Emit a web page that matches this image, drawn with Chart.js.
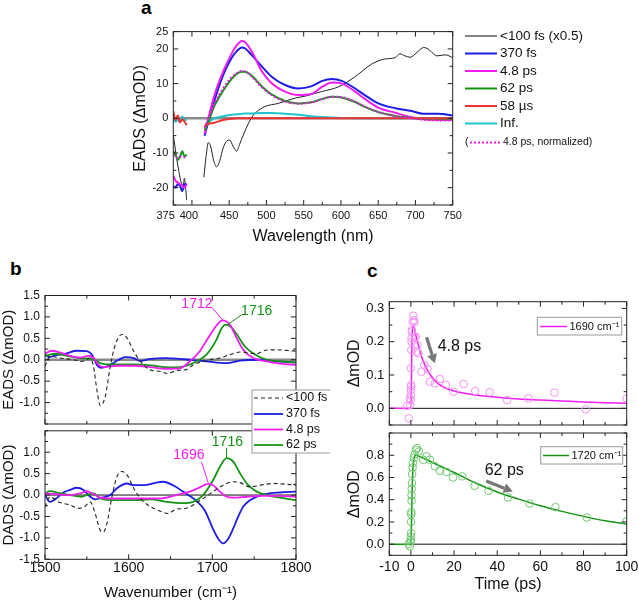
<!DOCTYPE html>
<html><head><meta charset="utf-8">
<script src="https://cdn.jsdelivr.net/npm/chart.js@4/dist/chart.umd.min.js"></script>
<style>
html,body{margin:0;padding:0;background:#fff;}
body{width:639px;height:602px;position:relative;overflow:hidden;font-family:"Liberation Sans",Arial,sans-serif;}
canvas{position:absolute;}
.plbl{position:absolute;font-weight:bold;font-size:19px;line-height:19px;color:#000;}
</style></head><body>
<div class="plbl" style="left:141px;top:-2px">a</div>
<div class="plbl" style="left:10px;top:259px">b</div>
<div class="plbl" style="left:367px;top:261px">c</div>
<script>
// ---------------- DATA ----------------
// Panel a: EADS vs wavelength (nm)
const aWl = [375,378,381,384,387,390,393,405,417,422,430,442,453,460,467,471,480,494,507,525,543,560,575,588,601,619,632,650,673,695,710,730,750];
const aBlue370fs = [-19.5,-20,-19,-19.5,-21,-19,-19,null,-5,-1,5,12.5,17.3,19.3,20.4,20.2,18.3,14.9,12,9.6,8.6,9.2,10.8,11.3,10.8,8.6,6.7,4.3,2.9,2.1,1.3,1.3,0.8];
const aMag48ps = [-16.5,-18,-18.5,-19,-19.5,-20,-19,null,-4.5,0,6.5,13.5,18.5,21,22.3,22,19.4,13.5,10.1,7.7,6.7,7.0,9.1,10.3,10.0,7.7,5.6,3.1,1.6,0.3,-0.3,-0.5,-0.5];
const aGreen62ps = [-9.5,-10.5,-12,-11,-9.5,-11,-10.5,null,-3.5,-1,3.5,8,11.3,12.8,13.4,13.4,12.3,9.2,6.9,5.0,4.3,4.6,5.6,6.2,6.0,4.7,3.3,1.8,0.7,0.1,-0.2,-0.3,-0.3];
const aMagNorm = [-10.5,-11,-11.5,-11,-11,-11.2,-11,null,-2.8,0,4.2,8.7,11.8,13,13.7,13.6,12.1,8.9,6.7,4.8,4.2,4.5,5.5,6.2,6.1,4.8,3.4,1.8,0.6,0,-0.4,-0.6,-0.6];
const aRed58us = [2,-0.5,0.8,-1.2,-0.3,-1,-2,null,-2.2,-1.6,-1.3,-0.5,-0.1,0,0,0,0,0,0,0,0,0,0,0,0,0,0,0,0,0,0,0,0];
const aCyanInf = [0.5,-1,-0.5,-1,0.5,-0.5,-0.5,null,-2.5,-1.2,0,0.6,1.0,1.2,1.3,1.35,1.4,1.5,1.5,1.3,1.0,0.6,0.35,0.2,0.1,0.05,0,0,0,0,0,0,0];
const aBlackWl = [375,379.5,382.6,385.3,388.4,389.8,391.6,392.9,405,416,419,422,425,429,433,437,442,447,451,455,460,464,469,476,482,487,498,516,538,552,574,597,619,641,659,673,679,686,693,702,711,717,724,729,740,750];
const aBlack100fs = [-4.8,-11.5,-15.4,-18.3,-19.2,-17.3,-20.2,-23.5,null,-17,-11,-7,-8,-12,-14,-12.5,-8.5,-6.5,-6.3,-8,-9.5,-7.5,-4.8,-1.4,0.8,1.9,3.4,4.3,5.8,6.4,7.7,9.1,12,15.6,17.1,17.5,18.6,18,17.6,19,20.4,20,18.6,18,18.3,17.5];
const aXTicks = [375,400,425,450,475,500,525,550,575,600,625,650,675,700,725,750];
const aXLabels = [375,400,450,500,550,600,650,700,750];
const aYTicks = [-25,-20,-15,-10,-5,0,5,10,15,20,25];
const aYLabels = [-20,-10,0,10,20,25];

// Panel b (top): EADS vs wavenumber
const bEadsFsX = [1500,1506,1518,1534,1544,1554,1558,1562,1566,1572,1578,1584,1592,1598,1606,1614,1625,1637,1647,1657,1669,1677,1689,1697,1709,1721,1733,1743,1753,1761,1773,1789,1800];
const bEadsFsY = [-0.15,0.08,0.04,0,-0.04,0.04,-0.16,-0.7,-1.07,-0.86,-0.16,0.35,0.59,0.51,0.2,-0.04,-0.23,-0.27,-0.32,-0.25,-0.23,-0.12,-0.04,0,0.04,0.12,0.18,0.16,0.14,0.21,0.23,0.22,0.2];
const bEads370X = [1500,1505,1512,1526,1538,1550,1556,1562,1567,1578,1588,1596,1606,1614,1626,1645,1661,1677,1693,1717,1733,1757,1777,1800];
const bEads370Y = [0.12,0.06,0.1,0.15,0.21,0.2,0.12,-0.12,-0.19,-0.12,0,0.06,0.04,-0.03,0.02,0.04,0.02,-0.01,-0.04,-0.08,-0.02,0,-0.04,-0.06];
const bEads48X = [1500,1508,1518,1530,1542,1552,1558,1564,1570,1586,1606,1626,1645,1661,1673,1685,1695,1705,1712,1721,1729,1737,1749,1765,1781,1800];
const bEads48Y = [0.14,0.21,0.17,0.09,0.05,0.09,0.04,-0.12,-0.17,-0.14,-0.14,-0.17,-0.21,-0.2,-0.04,0.2,0.51,0.8,0.92,0.82,0.51,0.23,0.04,-0.04,-0.09,-0.12];
const bEads62X = [1500,1512,1526,1542,1554,1560,1566,1578,1606,1626,1650,1669,1681,1693,1705,1711,1716,1722,1729,1739,1751,1765,1781,1800];
const bEads62Y = [0.09,0.14,0.09,0.04,0.02,0,-0.08,-0.11,-0.11,-0.13,-0.18,-0.14,-0.04,0.12,0.47,0.73,0.82,0.77,0.6,0.31,0.12,0,-0.04,-0.06];
// Panel b (bottom): DADS vs wavenumber
const bDadsFsX = [1500,1506,1516,1530,1540,1548,1554,1560,1566,1570,1574,1580,1586,1592,1598,1606,1614,1626,1637,1647,1657,1669,1677,1689,1701,1713,1725,1733,1745,1757,1773,1789,1800];
const bDadsFsY = [-0.28,-0.04,-0.16,-0.23,-0.31,-0.26,-0.16,-0.43,-0.82,-0.86,-0.66,-0.04,0.43,0.55,0.47,0.16,-0.08,-0.27,-0.37,-0.43,-0.33,-0.31,-0.23,-0.08,0.08,0.23,0.31,0.29,0.19,0.23,0.27,0.25,0.23];
const bDads370X = [1500,1506,1512,1522,1530,1538,1546,1554,1560,1568,1578,1586,1598,1606,1618,1633,1641,1653,1665,1673,1681,1691,1701,1707,1713,1719,1725,1731,1737,1745,1753,1765,1781,1800];
const bDads370Y = [0,-0.16,-0.1,0.06,0.12,0.17,0.12,-0.04,-0.1,-0.06,0,0.16,0.27,0.23,0.23,0.29,0.31,0.23,0.08,-0.02,-0.14,-0.36,-0.8,-1.02,-1.13,-1.02,-0.78,-0.5,-0.27,-0.12,-0.04,0.03,0.06,0.08];
const bDads48X = [1500,1514,1530,1544,1550,1558,1566,1578,1598,1618,1637,1657,1673,1685,1695,1701,1709,1717,1725,1741,1757,1777,1800];
const bDads48Y = [0.04,0.02,0,0.05,0.09,0.02,-0.06,-0.08,-0.08,-0.08,-0.08,0,0.08,0.18,0.26,0.23,0.08,-0.04,-0.06,-0.04,-0.02,-0.02,-0.04];
const bDads62X = [1500,1506,1516,1530,1544,1550,1558,1566,1578,1606,1626,1645,1665,1677,1689,1701,1709,1717,1725,1733,1743,1753,1765,1781,1800];
const bDads62Y = [0.04,0.09,0.05,0,-0.04,0,0.04,-0.08,-0.12,-0.12,-0.1,-0.16,-0.19,-0.16,0,0.35,0.66,0.86,0.78,0.51,0.23,0.08,0,-0.06,-0.12];
const bXTicks = [1500,1550,1600,1650,1700,1750,1800];
const bXLabels = [1500,1600,1700,1800];
const bYTicks = [-1.5,-1.25,-1,-0.75,-0.5,-0.25,0,0.25,0.5,0.75,1,1.25,1.5];
const bTopYLabels = [-1,-0.5,0,0.5,1,1.5];
const bBotYLabels = [-1.5,-1,-0.5,0,0.5,1];

// Panel c: kinetics
const c1690T = [-1.8,-1.0,-0.6,-0.3,-0.1,0,0,0.1,0.1,0,0.2,0.3,0.3,0.4,0.5,0.8,1.1,1.4,1.6,1.8,2.3,2.6,3.0,3.5,4.9,6.2,7.7,8.8,11.1,13.4,16.2,19.8,24.5,29.8,36.5,44.6,54.5,66.5,81,100];
const c1690Y = [0.007,-0.03,0.03,0.01,0.025,0.04,0.055,0.065,0.07,0.12,0.175,0.2,0.21,0.23,0.235,0.26,0.278,0.265,0.258,0.213,0.215,0.17,0.19,0.165,0.11,0.13,0.118,0.08,0.075,0.088,0.07,0.05,0.073,0.052,0.048,0.025,0.03,0.047,-0.003,0.03];
const c1690FitT = [-10,0,0.5,1.1,2,3,4,5,6,8,10,12,15,20,30,40,50,60,70,80,90,100];
const c1690FitY = [0,0,0.2,0.25,0.228,0.2,0.178,0.155,0.138,0.11,0.092,0.078,0.064,0.052,0.04,0.033,0.028,0.025,0.022,0.019,0.017,0.015];
const c1720T = [-1.0,-0.5,-0.2,0,0,0.1,0.1,0.15,0.2,0.3,0.3,0.4,0.5,0.6,0.8,0.9,1.4,1.7,2.3,2.9,3.8,5.7,7.2,8.8,11.1,13.4,16.5,19.5,23.8,29.5,36,45,55,67,81.5,100];
const c1720Y = [0,-0.02,0.024,0.04,0.068,0.1,0.2,0.27,0.29,0.39,0.44,0.5,0.55,0.63,0.69,0.73,0.776,0.805,0.85,0.864,0.835,0.76,0.79,0.76,0.7,0.66,0.65,0.6,0.61,0.525,0.48,0.42,0.365,0.333,0.24,0.206];
const c1720FitT = [-10,0,0.5,1,2.3,5,10,15,20,30,40,50,60,70,80,90,100];
const c1720FitY = [0,0,0.4,0.7,0.8,0.78,0.735,0.69,0.645,0.55,0.47,0.405,0.345,0.295,0.25,0.21,0.18];
const cXTicks = [-10,0,10,20,30,40,50,60,70,80,90,100];
const cXLabels = [-10,0,20,40,60,80,100];
const cTopYTicks = [-0.05,0,0.05,0.1,0.15,0.2,0.25,0.3];
const cTopYLabels = [0,0.1,0.2,0.3];
const cBotYTicks = [-0.1,0,0.1,0.2,0.3,0.4,0.5,0.6,0.7,0.8,0.9,1.0];
const cBotYLabels = [0,0.2,0.4,0.6,0.8];

// ---------------- STYLE ----------------
const FONT = '"Liberation Sans", Arial, sans-serif';
const BLUE = '#1c1ce6', MAG = '#f21cf2', GREEN = '#139413', RED = '#f23030', CYAN = '#22c4cc', BLK = '#222';

function pts(xs, ys){ return xs.map((x,i)=>({x:x, y:ys[i]})); }
function line(xs, ys, color, width, dash){
  return {data:pts(xs,ys), borderColor:color, borderWidth:width, borderDash:dash||[], pointRadius:0,
          fill:false, cubicInterpolationMode:'monotone', spanGaps:false};
}
function scatter(xs, ys, color){
  return {data:pts(xs,ys), showLine:false, pointRadius:3.8, pointStyle:'circle', pointBorderWidth:1,
          pointBorderColor:color, pointBackgroundColor:'rgba(0,0,0,0)'};
}

const framePlugin = {
  id:'frame',
  afterDatasetsDraw(chart, args, o){
    const ctx = chart.ctx, a = chart.chartArea, sx = chart.scales.x, sy = chart.scales.y;
    ctx.save();
    (o.lines||[]).forEach(l=>{
      ctx.beginPath(); ctx.strokeStyle=l.color; ctx.lineWidth=l.width||1;
      ctx.moveTo(sx.getPixelForValue(l.x1), sy.getPixelForValue(l.y1));
      ctx.lineTo(sx.getPixelForValue(l.x2), sy.getPixelForValue(l.y2)); ctx.stroke();
    });
    (o.arrows||[]).forEach(l=>{
      const x1=sx.getPixelForValue(l.x1), y1=sy.getPixelForValue(l.y1);
      const x2=sx.getPixelForValue(l.x2), y2=sy.getPixelForValue(l.y2);
      const ang=Math.atan2(y2-y1,x2-x1), hl=9, hw=5;
      const bx=x2-hl*Math.cos(ang), by=y2-hl*Math.sin(ang);
      ctx.beginPath(); ctx.strokeStyle=l.color; ctx.lineWidth=3.2;
      ctx.moveTo(x1,y1); ctx.lineTo(bx,by); ctx.stroke();
      ctx.beginPath(); ctx.fillStyle=l.color;
      ctx.moveTo(x2,y2);
      ctx.lineTo(bx+hw*Math.sin(ang), by-hw*Math.cos(ang));
      ctx.lineTo(bx-hw*Math.sin(ang), by+hw*Math.cos(ang));
      ctx.closePath(); ctx.fill();
    });
    (o.texts||[]).forEach(t=>{
      ctx.fillStyle=t.color; ctx.font=t.font; ctx.textAlign=t.align||'center'; ctx.textBaseline='middle';
      ctx.fillText(t.text, sx.getPixelForValue(t.x), sy.getPixelForValue(t.y));
    });
    ctx.strokeStyle='#222'; ctx.lineWidth=1;
    ctx.strokeRect(a.left, a.top, a.right-a.left, a.bottom-a.top);
    ctx.beginPath();
    (o.xTicks||[]).forEach(v=>{
      const p=sx.getPixelForValue(v), L=(o.xMajor||[]).includes(v)?5:3;
      ctx.moveTo(p,a.bottom); ctx.lineTo(p,a.bottom-L);
      ctx.moveTo(p,a.top); ctx.lineTo(p,a.top+L);
    });
    (o.yTicks||[]).forEach(v=>{
      const p=sy.getPixelForValue(v), L=(o.yMajor||[]).includes(v)?5:3;
      ctx.moveTo(a.left,p); ctx.lineTo(a.left+L,p);
      ctx.moveTo(a.right,p); ctx.lineTo(a.right-L,p);
    });
    ctx.stroke();
    ctx.restore();
  },
  afterDraw(chart, args, o){
    const lg = o.legend; if(!lg) return;
    const ctx = chart.ctx, ox=o.ox, oy=o.oy;
    ctx.save();
    if(lg.box){
      ctx.fillStyle='#fff'; ctx.strokeStyle='#9a9a9a'; ctx.lineWidth=1;
      ctx.fillRect(lg.box[0]-ox, lg.box[1]-oy, lg.box[2], lg.box[3]);
      ctx.strokeRect(lg.box[0]-ox, lg.box[1]-oy, lg.box[2], lg.box[3]);
    }
    lg.items.forEach(it=>{
      ctx.beginPath(); ctx.strokeStyle=it.color; ctx.lineWidth=it.width; ctx.setLineDash(it.dash||[]);
      ctx.moveTo(it.x1-ox, it.y-oy); ctx.lineTo(it.x2-ox, it.y-oy); ctx.stroke();
      ctx.setLineDash([]);
      ctx.fillStyle='#111'; ctx.font=it.font; ctx.textAlign='left'; ctx.textBaseline='middle';
      ctx.fillText(it.label, it.tx-ox, it.y-oy);
      if(it.pre){ ctx.fillText(it.pre, it.px-ox, it.y-oy); }
    });
    ctx.restore();
  }
};

function fmt(d){ return v => (d===0 ? String(v) : v.toFixed(d)); }

function makeChart(box, area, c){
  const cv = document.createElement('canvas');
  cv.width = box.w; cv.height = box.h;
  cv.style.left = box.x+'px'; cv.style.top = box.y+'px';
  cv.style.width = box.w+'px'; cv.style.height = box.h+'px';
  document.body.appendChild(cv);
  const f = fmt(c.dec);
  const xLab = c.xLabelText || (v => String(v));
  return new Chart(cv.getContext('2d'), {
    type:'line',
    data:{datasets:c.datasets},
    options:{
      responsive:false, animation:false, devicePixelRatio:1,
      layout:{padding:{left:0, top:area.t-box.y, right:box.x+box.w-area.r, bottom:0}},
      plugins:{legend:{display:false}, tooltip:{enabled:false},
        frame:Object.assign({ox:box.x, oy:box.y, xTicks:c.xTicks, xMajor:c.xLabels, yTicks:c.yTicks, yMajor:c.yLabels}, c.frame||{})},
      scales:{
        x:{type:'linear', min:c.xMin, max:c.xMax,
           afterBuildTicks:s=>{ s.ticks = c.xTicks.map(v=>({value:v})); },
           afterFit:s=>{ s.height = box.y+box.h-area.b; s.paddingLeft=0; s.paddingRight=0; },
           grid:{display:false, drawTicks:false}, border:{display:false},
           ticks:{display:c.showX, autoSkip:false, maxRotation:0, minRotation:0, padding:c.xPad,
                  font:{family:FONT, size:c.xFont}, color:'#111',
                  callback:v=> c.xLabels.includes(v) ? xLab(v) : ''},
           title:{display:!!c.xTitle, text:c.xTitle, color:'#111', font:{family:FONT, size:c.titleFont||16},
                  padding:{top:0, bottom:c.xTitlePad||0}}},
        y:{type:'linear', min:c.yMin, max:c.yMax,
           afterBuildTicks:s=>{ s.ticks = c.yTicks.map(v=>({value:v})); },
           afterFit:s=>{ s.width = area.l-box.x; s.paddingTop=0; s.paddingBottom=0; },
           grid:{display:false, drawTicks:false}, border:{display:false},
           ticks:{autoSkip:false, padding:c.yPad, font:{family:FONT, size:c.yFont}, color:'#111',
                  callback:v=> c.yLabels.includes(v) ? f(v) : ''},
           title:{display:true, text:c.yTitle, color:'#111', font:{family:FONT, size:c.titleFont||16},
                  padding:{top:c.yTitlePad, bottom:0}}}
      }
    },
    plugins:[framePlugin]
  });
}

// ---------------- PANEL A ----------------
makeChart({x:0,y:0,w:639,h:260}, {l:173.3,t:31.6,r:452.7,b:205}, {
  datasets:[
    line(aWl, aMagNorm, MAG, 2, [2,2]),
    line(aWl, aRed58us, RED, 2),
    line(aWl, aGreen62ps, GREEN, 2),
    line(aWl, aCyanInf, CYAN, 2),
    line(aWl, aMag48ps, MAG, 2),
    line(aWl, aBlue370fs, BLUE, 2),
    line(aBlackWl, aBlack100fs, BLK, 1),
    line([375,750],[0,0], '#8a8a8a', 2.5)
  ],
  xMin:375, xMax:750, yMin:-25, yMax:25, dec:0,
  xTicks:aXTicks, xLabels:aXLabels, yTicks:aYTicks, yLabels:aYLabels,
  xLabelText: v => (v===375 ? '375     ' : (v===400 ? '400  ' : String(v))),
  showX:true, xFont:11, yFont:11, xPad:4, yPad:5,
  xTitle:'Wavelength (nm)', xTitlePad:13.4, yTitle:'EADS (ΔmOD)', yTitlePad:131.4,
  frame:{legend:{items:[
    {label:'<100 fs (x0.5)', color:'#666', width:1.6, y:36, x1:465, x2:497, tx:500, font:'13.5px '+FONT},
    {label:'370 fs', color:BLUE, width:2, y:53.5, x1:465, x2:497, tx:500, font:'13.5px '+FONT},
    {label:'4.8 ps', color:MAG, width:2, y:71, x1:465, x2:497, tx:500, font:'13.5px '+FONT},
    {label:'62 ps', color:GREEN, width:2, y:88.5, x1:465, x2:497, tx:500, font:'13.5px '+FONT},
    {label:'58 µs', color:RED, width:2, y:106, x1:465, x2:497, tx:500, font:'13.5px '+FONT},
    {label:'Inf.', color:CYAN, width:2, y:123.5, x1:465, x2:497, tx:500, font:'13.5px '+FONT},
    {label:'4.8 ps, normalized)', pre:'(', px:465, color:MAG, width:2, dash:[2,2], y:142.5, x1:470, x2:500, tx:503, font:'10.5px '+FONT}
  ]}}
});

// ---------------- PANEL B ----------------
makeChart({x:0,y:285,w:330,h:145}, {l:45,t:295.5,r:296,b:424}, {
  datasets:[
    line(bEadsFsX, bEadsFsY, BLK, 1.1, [4,3]),
    line(bEads48X, bEads48Y, MAG, 1.8),
    line(bEads62X, bEads62Y, GREEN, 1.8),
    line(bEads370X, bEads370Y, BLUE, 1.8),
    line([1500,1800],[0,0], '#8a8a8a', 2.5)
  ],
  xMin:1500, xMax:1800, yMin:-1.5, yMax:1.5, dec:1,
  xTicks:bXTicks, xLabels:bXLabels, yTicks:bYTicks, yLabels:bTopYLabels,
  showX:false, xFont:14, yFont:12, xPad:0, yPad:5, titleFont:15,
  yTitle:'EADS (ΔmOD)', yTitlePad:0,
  frame:{
    texts:[{text:'1712', x:1681.6, y:1.29, color:MAG, font:'14px '+FONT},
           {text:'1716', x:1753, y:1.13, color:GREEN, font:'14px '+FONT}],
    lines:[{x1:1699.5,y1:1.22,x2:1712.3,y2:0.93,color:MAG,width:1},
           {x1:1735,y1:1.05,x2:1719,y2:0.83,color:GREEN,width:1}]
  }
});
makeChart({x:0,y:385,w:330,h:217}, {l:45,t:430.8,r:296,b:559.3}, {
  datasets:[
    line(bDadsFsX, bDadsFsY, BLK, 1.1, [4,3]),
    line(bDads48X, bDads48Y, MAG, 1.8),
    line(bDads62X, bDads62Y, GREEN, 1.8),
    line(bDads370X, bDads370Y, BLUE, 1.8),
    line([1500,1800],[0,0], '#111', 1)
  ],
  xMin:1500, xMax:1800, yMin:-1.5, yMax:1.5, dec:1,
  xTicks:bXTicks, xLabels:bXLabels, yTicks:bYTicks, yLabels:bBotYLabels,
  showX:true, xFont:14, yFont:12, xPad:0, yPad:5, titleFont:15,
  xTitle:'Wavenumber (cm⁻¹)', xTitlePad:0, yTitle:'DADS (ΔmOD)', yTitlePad:0,
  frame:{
    texts:[{text:'1716', x:1718, y:1.24, color:GREEN, font:'14px '+FONT},
           {text:'1696', x:1672, y:0.93, color:MAG, font:'14px '+FONT}],
    lines:[{x1:1717,y1:1.10,x2:1717,y2:0.87,color:GREEN,width:1},
           {x1:1687,y1:0.78,x2:1695,y2:0.29,color:MAG,width:1}],
    legend:{box:[252,390,79,63], items:[
      {label:'<100 fs', color:BLK, width:1.1, dash:[4,3], y:398, x1:254, x2:283, tx:286, font:'12.5px '+FONT},
      {label:'370 fs', color:BLUE, width:1.8, y:414, x1:254, x2:283, tx:286, font:'12.5px '+FONT},
      {label:'4.8 ps', color:MAG, width:1.8, y:429.5, x1:254, x2:283, tx:286, font:'12.5px '+FONT},
      {label:'62 ps', color:GREEN, width:1.8, y:445, x1:254, x2:283, tx:286, font:'12.5px '+FONT}
    ]}
  }
});

// ---------------- PANEL C ----------------
makeChart({x:330,y:285,w:309,h:147}, {l:389.3,t:301.7,r:626.7,b:425}, {
  datasets:[
    scatter(c1690T, c1690Y, '#f590f5'),
    line(c1690FitT, c1690FitY, MAG, 1.5),
    line([0,100],[0,0], '#111', 1)
  ],
  xMin:-10, xMax:100, yMin:-0.05, yMax:0.32, dec:1,
  xTicks:cXTicks, xLabels:cXLabels, yTicks:cTopYTicks, yLabels:cTopYLabels,
  showX:false, xFont:14, yFont:13, xPad:3, yPad:5,
  yTitle:'ΔmOD', yTitlePad:15.4,
  frame:{
    arrows:[{x1:7.26,y1:0.213,x2:11.1,y2:0.135,color:'#777'}],
    texts:[{text:'4.8 ps', x:12.4, y:0.184, color:'#111', font:'16px '+FONT, align:'left'}],
    legend:{box:[537.3,317.3,84.4,17.7], items:[
      {label:'1690 cm⁻¹', color:MAG, width:1.5, y:326.5, x1:540, x2:567, tx:569.5, font:'11px '+FONT}
    ]}
  }
});
makeChart({x:330,y:428,w:309,h:174}, {l:389.3,t:431.7,r:626.7,b:555.3}, {
  datasets:[
    scatter(c1720T, c1720Y, '#6fc86f'),
    line(c1720FitT, c1720FitY, GREEN, 1.5),
    line([0,100],[0,0], '#111', 1)
  ],
  xMin:-10, xMax:100, yMin:-0.1, yMax:1.0, dec:1,
  xTicks:cXTicks, xLabels:cXLabels, yTicks:cBotYTicks, yLabels:cBotYLabels,
  showX:true, xFont:14, yFont:13, xPad:3, yPad:5,
  xTitle:'Time (ps)', xTitlePad:7.4, yTitle:'ΔmOD', yTitlePad:15.4,
  frame:{
    arrows:[{x1:34.9,y1:0.569,x2:47.2,y2:0.474,color:'#777'}],
    texts:[{text:'62 ps', x:34.2, y:0.666, color:'#111', font:'16px '+FONT, align:'left'}],
    legend:{box:[540.7,446.7,82,17.3], items:[
      {label:'1720 cm⁻¹', color:GREEN, width:1.5, y:455.5, x1:543, x2:569, tx:571.5, font:'11px '+FONT}
    ]}
  }
});
</script>
</body></html>
